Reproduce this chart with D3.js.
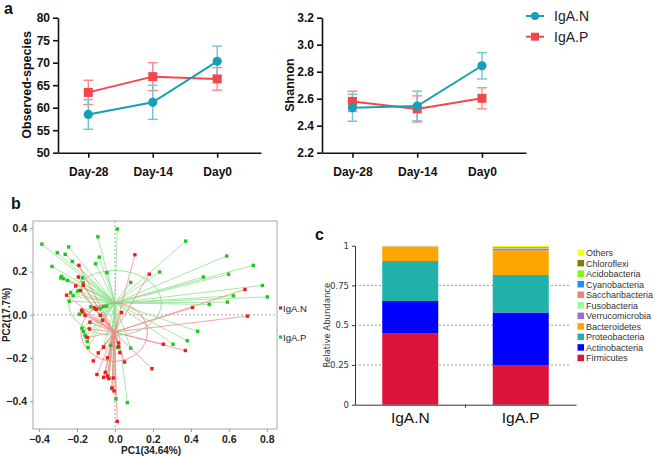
<!DOCTYPE html>
<html>
<head>
<meta charset="utf-8">
<script src="https://cdn.jsdelivr.net/npm/d3@7"></script>
<style>
  html, body { margin: 0; padding: 0; background: #fff; }
  svg { display: block; font-family: "Liberation Sans", Arial, sans-serif; }
</style>
</head>
<body>
<svg id="chart" width="654" height="456"></svg>
<script>
// ---------------- Panel a data ----------------
const days = ["Day-28", "Day-14", "Day0"];
const groups = ["IgA.N", "IgA.P"];
const obsN = [58.5, 61.2, 70.3];
const obsNErr = [3.3, 3.8, 3.4];
const obsP = [63.4, 66.9, 66.4];
const obsPErr = [2.7, 3.1, 2.5];
const shanN = [2.533, 2.546, 2.844];
const shanNErr = [0.1, 0.11, 0.098];
const shanP = [2.58, 2.524, 2.603];
const shanPErr = [0.075, 0.097, 0.078];
const obsTicks = [50, 55, 60, 65, 70, 75, 80];
const shanTicks = [2.2, 2.4, 2.6, 2.8, 3.0, 3.2];

// ---------------- Panel b data (PCoA) ----------------
const pcaNx = [0.105, 0.181, -0.190, -0.193, -0.167, -0.207, -0.255, -0.181, -0.170, -0.176, -0.158, -0.100, -0.077, -0.065, 0.035, -0.146, -0.135, -0.088, -0.114, -0.095, -0.060, -0.040, -0.051, -0.033, -0.009, -0.016, -0.005, 0.012, -0.060, 0.019, 0.019, -0.040, 0.026, 0.051, 0.195, 0.255, 0.371, 0.409, 0.685, 0.699, -0.132, -0.109];
const pcaNy = [0.278, 0.188, 0.229, 0.175, 0.137, 0.134, 0.091, 0.113, 0.014, 0.022, -0.002, 0.025, -0.002, -0.025, 0.011, -0.105, -0.065, -0.176, -0.213, -0.276, -0.289, -0.283, -0.266, -0.295, -0.292, -0.338, -0.352, -0.493, -0.150, -0.147, -0.130, -0.199, -0.175, -0.218, -0.249, -0.136, -0.165, 0.034, 0.117, -0.006, -0.034, 0.032];
const pcaPx = [-0.385, -0.090, 0.012, -0.304, -0.244, -0.262, -0.225, -0.332, -0.083, -0.102, -0.042, -0.281, -0.272, -0.286, -0.250, -0.172, -0.167, -0.197, -0.234, -0.221, -0.241, -0.188, -0.176, -0.097, -0.079, -0.062, -0.044, -0.128, -0.174, -0.165, -0.158, -0.153, -0.146, -0.142, -0.060, -0.039, -0.032, -0.016, 0.005, 0.014, 0.083, 0.065, -0.023, 0.373, 0.589, 0.729, 0.599, 0.466, 0.236, 0.083, 0.777, 0.624, 0.803, 0.592, 0.497, 0.436, 0.381, 0.306];
const pcaPy = [0.327, 0.361, 0.397, 0.287, 0.314, 0.280, 0.247, 0.224, 0.267, 0.236, 0.195, 0.178, 0.167, 0.171, 0.159, 0.171, 0.148, 0.110, 0.103, 0.088, 0.063, 0.003, 0.019, 0.028, 0.028, 0.037, 0.040, 0.037, -0.062, -0.077, -0.094, -0.102, -0.124, -0.151, -0.147, -0.284, -0.293, -0.341, -0.389, -0.151, -0.154, -0.406, -0.141, 0.341, 0.272, 0.229, 0.188, 0.175, 0.198, 0.150, 0.136, 0.088, 0.083, 0.059, 0.048, -0.076, -0.120, -0.136];
const centroidN = [-0.004, -0.08];
const centroidP = [0.0, 0.055];
const ellipseN = [0.175, 0.135];
const ellipseP = [0.245, 0.15];
const pcXTicks = [-0.4, -0.2, 0.0, 0.2, 0.4, 0.6, 0.8];
const pcYTicks = [-0.4, -0.2, 0.0, 0.2, 0.4];

// ---------------- Panel c data (stacked bars) ----------------
const phyla = ["Firmicutes", "Actinobacteria", "Proteobacteria", "Bacteroidetes", "Verrucomicrobia", "Fusobacteria", "Saccharibacteria", "Cyanobacteria", "Acidobacteria", "Chloroflexi", "Others"];
const abundN = [0.447, 0.205, 0.252, 0.090, 0.0005, 0.001, 0.0005, 0.0005, 0.0005, 0.0005, 0.0025];
const abundP = [0.250, 0.330, 0.236, 0.155, 0.008, 0.004, 0.002, 0.002, 0.002, 0.004, 0.007];
const phylaColors = ["#dc143c", "#0000ff", "#20b2aa", "#ffa500", "#9370db", "#98fb98", "#f08080", "#1e90ff", "#7cfc00", "#808000", "#ffff00"];
const abundTicks = [0, 0.25, 0.5, 0.75, 1];

// ---------------- Drawing ----------------
const svg = d3.select("#chart");
const teal = "#199fb5", red = "#f2474d";
const tealErr = "#6cc6d4", redErr = "#f88a8d";

function panelLabel(t, x, y) {
  svg.append("text").attr("x", x).attr("y", y).text(t)
    .attr("font-size", 16).attr("font-weight", "bold").attr("fill", "#111");
}
panelLabel("a", 4, 14);
panelLabel("b", 11, 209);
panelLabel("c", 315, 240);

function linePlot(opts) {
  const g = svg.append("g");
  const x = d3.scaleLinear().domain([-0.47, 2.68]).range(opts.xr);
  const y = d3.scaleLinear().domain(opts.yd).range([152.7, 17.7]);
  const yAx = g.append("g").attr("transform", `translate(${opts.xr[0]},0)`)
    .call(d3.axisLeft(y).tickValues(opts.ticks).tickSize(5).tickSizeOuter(0).tickFormat(opts.fmt));
  const xAx = g.append("g").attr("transform", `translate(0,152.7)`)
    .call(d3.axisBottom(x).tickValues([0, 1, 2]).tickSize(5).tickSizeOuter(0).tickFormat(i => days[i]));
  [yAx, xAx].forEach(a => {
    a.selectAll("path, line").attr("stroke", "#111").attr("stroke-width", 1.6);
    a.selectAll("text").attr("font-size", 12).attr("font-weight", "bold").attr("fill", "#111")
      .attr("font-family", "'Liberation Sans', Arial, sans-serif");
  });
  xAx.selectAll("text").attr("dy", "1.25em");
  g.append("text").attr("transform", `translate(${opts.labelX},85) rotate(-90)`)
    .attr("text-anchor", "middle").attr("font-size", 12.5).attr("font-weight", "bold")
    .attr("fill", "#111").text(opts.label);

  const series = [
    { v: opts.p, e: opts.pe, c: red, ec: redErr, shape: "sq" },
    { v: opts.n, e: opts.ne, c: teal, ec: tealErr, shape: "ci" }
  ];
  series.forEach(s => {
    const eg = g.append("g").attr("stroke", s.ec).attr("stroke-width", 1.4);
    s.v.forEach((v, i) => {
      eg.append("line").attr("x1", x(i)).attr("x2", x(i)).attr("y1", y(v - s.e[i])).attr("y2", y(v + s.e[i]));
      eg.append("line").attr("x1", x(i) - 5).attr("x2", x(i) + 5).attr("y1", y(v - s.e[i])).attr("y2", y(v - s.e[i]));
      eg.append("line").attr("x1", x(i) - 5).attr("x2", x(i) + 5).attr("y1", y(v + s.e[i])).attr("y2", y(v + s.e[i]));
    });
  });
  series.forEach(s => {
    g.append("path").datum(s.v)
      .attr("d", d3.line().x((d, i) => x(i)).y(d => y(d)))
      .attr("fill", "none").attr("stroke", s.c).attr("stroke-width", 2);
    s.v.forEach((v, i) => {
      if (s.shape === "sq") {
        g.append("rect").attr("x", x(i) - 4.5).attr("y", y(v) - 4.5).attr("width", 9).attr("height", 9).attr("fill", s.c);
      } else {
        g.append("circle").attr("cx", x(i)).attr("cy", y(v)).attr("r", 4.6).attr("fill", s.c);
      }
    });
  });
}

linePlot({ xr: [58, 261], yd: [50, 80], ticks: obsTicks, fmt: d3.format("d"),
  n: obsN, ne: obsNErr, p: obsP, pe: obsPErr, label: "Observed-species", labelX: 31 });
linePlot({ xr: [322, 526], yd: [2.2, 3.2], ticks: shanTicks, fmt: d3.format(".1f"),
  n: shanN, ne: shanNErr, p: shanP, pe: shanPErr, label: "Shannon", labelX: 294 });

// legend a
const legA = svg.append("g");
[[teal, "ci", groups[0], 16], [red, "sq", groups[1], 36.7]].forEach(([c, sh, t, yy]) => {
  legA.append("line").attr("x1", 526).attr("x2", 544).attr("y1", yy).attr("y2", yy).attr("stroke", c).attr("stroke-width", 2);
  if (sh === "ci") legA.append("circle").attr("cx", 535).attr("cy", yy).attr("r", 4).attr("fill", c);
  else legA.append("rect").attr("x", 531).attr("y", yy - 4).attr("width", 8).attr("height", 8).attr("fill", c);
  legA.append("text").attr("x", 554).attr("y", yy + 5).attr("font-size", 14).attr("fill", "#222").text(t);
});

// ---------------- Panel b ----------------
const pb = svg.append("g");
const px = d3.scaleLinear().domain([-0.432, 0.854]).range([33, 277]);
const py = d3.scaleLinear().domain([-0.528, 0.434]).range([429, 221]);
pb.append("rect").attr("x", px(-0.432)).attr("y", py(0.434))
  .attr("width", px(0.854) - px(-0.432)).attr("height", py(-0.528) - py(0.434))
  .attr("fill", "none").attr("stroke", "#a8a8a8").attr("stroke-width", 1);
pb.append("line").attr("x1", px(0)).attr("x2", px(0)).attr("y1", py(0.434)).attr("y2", py(-0.528))
  .attr("stroke", "#999").attr("stroke-width", 0.8).attr("stroke-dasharray", "2,2");
pb.append("line").attr("x1", px(-0.432)).attr("x2", px(0.854)).attr("y1", py(0)).attr("y2", py(0))
  .attr("stroke", "#999").attr("stroke-width", 0.8).attr("stroke-dasharray", "2,2");

const pbx = pb.append("g").attr("transform", `translate(0,${py(-0.528)})`)
  .call(d3.axisBottom(px).tickValues(pcXTicks).tickSize(3).tickSizeOuter(0).tickFormat(d3.format(".1f")));
const pby = pb.append("g").attr("transform", `translate(${px(-0.432)},0)`)
  .call(d3.axisLeft(py).tickValues(pcYTicks).tickSize(3).tickSizeOuter(0).tickFormat(d3.format(".1f")));
[pbx, pby].forEach(a => {
  a.select(".domain").remove();
  a.selectAll("line").attr("stroke", "#999");
  a.selectAll("text").attr("font-size", 10.5).attr("font-weight", "bold").attr("fill", "#222")
    .attr("font-family", "'Liberation Sans', Arial, sans-serif");
});
pbx.selectAll("text").attr("dy", "0.72em");
pb.append("text").attr("x", 151).attr("y", 454).attr("text-anchor", "middle")
  .attr("font-size", 10).attr("font-weight", "bold").attr("fill", "#222").text("PC1(34.64%)");
pb.append("text").attr("transform", `translate(10,${py(0)}) rotate(-90)`).attr("text-anchor", "middle")
  .attr("font-size", 10).attr("font-weight", "bold").attr("fill", "#222").text("PC2(17.7%)");

const grpB = [
  { xs: pcaPx, ys: pcaPy, c: centroidP, e: ellipseP, line: "#7fdc7f", pt: "#1ec81e" },
  { xs: pcaNx, ys: pcaNy, c: centroidN, e: ellipseN, line: "#f47b7b", pt: "#ee1c1c" }
];
grpB.forEach(gp => {
  const lg = pb.append("g").attr("stroke", gp.line).attr("stroke-width", 0.8).attr("opacity", 0.85);
  gp.xs.forEach((vx, i) => {
    lg.append("line").attr("x1", px(gp.c[0])).attr("y1", py(gp.c[1])).attr("x2", px(vx)).attr("y2", py(gp.ys[i]));
  });
});
grpB.forEach(gp => {
  pb.append("ellipse").attr("cx", px(gp.c[0])).attr("cy", py(gp.c[1]))
    .attr("rx", px(gp.e[0]) - px(0)).attr("ry", py(0) - py(gp.e[1]))
    .attr("fill", "none").attr("stroke", gp.line).attr("stroke-width", 0.8);
});
grpB.forEach(gp => {
  gp.xs.forEach((vx, i) => {
    pb.append("rect").attr("x", px(vx) - 1.7).attr("y", py(gp.ys[i]) - 1.7)
      .attr("width", 3.4).attr("height", 3.4).attr("fill", gp.pt);
  });
});
// legend b
[[groups[0], "#ee1c1c", 308], [groups[1], "#1ec81e", 337]].forEach(([t, c, yy]) => {
  pb.append("rect").attr("x", 279).attr("y", yy - 1.6).attr("width", 3.2).attr("height", 3.2).attr("fill", c);
  pb.append("text").attr("x", 283).attr("y", yy + 3.5).attr("font-size", 9.5).attr("fill", "#222").text(t);
});

// ---------------- Panel c ----------------
const pc = svg.append("g");
const cx = d3.scaleBand().domain(groups).range([355, 576]).paddingInner(0.493).paddingOuter(0.2465);
const cy = d3.scaleLinear().domain([0, 1]).range([404.7, 245.7]);
abundTicks.filter(t => t > 0 && t < 1).forEach(t => {
  pc.append("line").attr("x1", 355).attr("x2", 569).attr("y1", cy(t)).attr("y2", cy(t))
    .attr("stroke", "#888").attr("stroke-width", 0.8).attr("stroke-dasharray", "2,2");
});
const table = groups.map((gname, gi) => {
  const row = { group: gname };
  phyla.forEach((p, pi) => { row[p] = (gi === 0 ? abundN : abundP)[pi]; });
  return row;
});
const stacked = d3.stack().keys(phyla)(table);
stacked.forEach((layer, li) => {
  pc.append("g").attr("fill", phylaColors[li]).selectAll("rect").data(layer).join("rect")
    .attr("x", d => cx(d.data.group)).attr("width", cx.bandwidth())
    .attr("y", d => cy(d[1])).attr("height", d => Math.max(0, cy(d[0]) - cy(d[1])));
});
const cyAx = pc.append("g").attr("transform", "translate(355,0)")
  .call(d3.axisLeft(cy).tickValues(abundTicks).tickSize(3).tickSizeOuter(0).tickFormat(d => d3.format("")(d)));
const cxAx = pc.append("g").attr("transform", `translate(0,${cy(0)})`)
  .call(d3.axisBottom(cx).tickSize(0).tickSizeOuter(0));
cyAx.selectAll("path, line").attr("stroke", "#333");
cyAx.selectAll("text").attr("font-size", 8.5).attr("fill", "#333")
  .attr("font-family", "'DejaVu Sans', Verdana, sans-serif");
cxAx.select(".domain").attr("stroke", "#333");
cxAx.selectAll("text").attr("font-size", 15.5).attr("fill", "#111").attr("dy", "1.0em")
  .attr("font-family", "'Liberation Sans', Arial, sans-serif");
pc.append("line").attr("x1", (cx("IgA.N") + cx("IgA.P") + cx.bandwidth()) / 2)
  .attr("x2", (cx("IgA.N") + cx("IgA.P") + cx.bandwidth()) / 2)
  .attr("y1", cy(0)).attr("y2", cy(0) + 3).attr("stroke", "#333");
pc.append("text").attr("transform", `translate(330,${cy(0.5)}) rotate(-90)`).attr("text-anchor", "middle")
  .attr("font-size", 8.5).attr("fill", "#333").attr("font-family", "'DejaVu Sans', Verdana, sans-serif")
  .text("Relative Abundance");

// legend c (reverse order)
const legItems = phyla.map((p, i) => ({ p, c: phylaColors[i] })).reverse();
legItems.forEach((d, i) => {
  const yy = 252.7 + i * 10.53;
  pc.append("rect").attr("x", 577.5).attr("y", yy - 3.3).attr("width", 6.5).attr("height", 6.5).attr("fill", d.c);
  pc.append("text").attr("x", 586).attr("y", yy + 3.3).attr("font-size", 9).attr("fill", "#333")
    .attr("font-family", "'Liberation Sans', Arial, sans-serif").text(d.p);
});
</script>
</body>
</html>
